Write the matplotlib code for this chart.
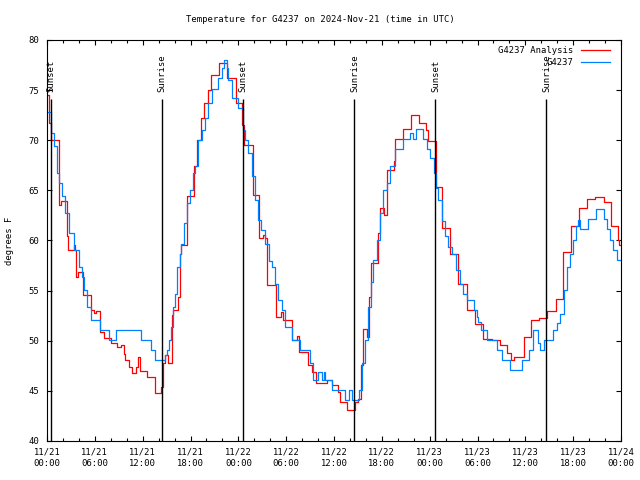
import numpy as np
import pandas as pd
import matplotlib
matplotlib.use("Agg")
import matplotlib.pyplot as plt
import matplotlib.dates as mdates

# hours since 2024-11-21 00:00 UTC and temperature [F]
red_h = [0.0, 0.2, 0.45, 1.55, 1.75, 2.5, 2.65, 3.4, 3.5, 3.65, 3.85, 4.5, 5.5, 5.9, 6.2, 6.65,
         7.2, 8.0, 8.8, 9.3, 9.6, 9.75, 10.3, 10.7, 11.15, 11.45, 11.7, 12.6, 13.6, 14.3, 14.5,
         14.8, 15.2, 15.65, 15.85, 16.45, 16.65, 16.85, 17.6, 18.45, 18.8, 19.35, 19.7, 20.25,
         20.6, 21.6, 22.6, 23.7, 24.4, 24.75, 25.8, 26.65, 27.1, 27.3, 27.65, 28.7, 29.3, 29.6,
         30.7, 31.3, 31.6, 32.7, 33.3, 33.8, 35.1, 35.8, 36.55, 36.8, 37.6, 38.6, 39.0, 39.4,
         39.6, 40.1, 40.4, 40.7, 41.5, 41.8, 42.3, 42.6, 43.5, 43.7, 44.7, 45.7, 46.7, 47.6,
         47.8, 48.8, 49.6, 50.6, 51.6, 52.7, 53.7, 54.7, 55.8, 56.8, 57.75, 58.15, 58.6, 59.8,
         60.7, 61.7, 62.75, 63.8, 64.75, 65.75, 66.75, 67.7, 68.75, 69.9, 70.8, 71.6, 71.8, 72.0]
red_t = [74.5, 71.7, 70.0, 63.5, 63.9, 60.4, 59.05, 59.6, 59.05, 56.4, 56.9, 54.6, 53.1, 52.8,
         53.0, 50.9, 50.3, 49.75, 49.4, 49.6, 48.7, 48.1, 47.4, 46.75, 47.4, 48.4, 47.0, 46.4,
         44.75, 45.4, 47.8, 48.6, 47.8, 52.6, 53.1, 54.4, 58.7, 59.55, 64.4, 67.4, 70.0, 72.2,
         73.7, 75.0, 76.5, 77.7, 76.2, 73.7, 71.5, 69.5, 64.5, 60.2, 60.5, 60.2, 55.55, 52.4,
         52.9, 52.1, 50.1, 50.5, 48.9, 47.6, 46.9, 45.75, 46.1, 45.6, 44.9, 43.9, 43.1, 43.9,
         44.2, 47.6, 51.2, 50.4, 54.4, 57.8, 60.7, 63.2, 62.5, 67.0, 67.9, 70.1, 71.1, 72.5,
         71.7, 71.0, 69.9, 65.3, 61.2, 58.7, 55.7, 53.1, 51.7, 50.2, 50.1, 49.6, 48.75, 48.1,
         48.4, 50.4, 52.1, 52.3, 53.0, 54.2, 58.9, 61.4, 63.2, 64.1, 64.3, 63.8, 61.4, 60.05,
         59.6, 59.6]

blue_h = [0.0, 0.45, 0.9, 1.3, 1.5, 1.9, 2.3, 2.75, 3.4, 4.0, 4.4, 4.6, 5.05, 5.5, 6.6, 7.8,
          8.7, 11.75, 13.0, 13.6, 14.8, 15.0, 15.3, 15.5, 15.8, 16.0, 16.35, 16.7, 16.85, 17.2,
          17.6, 17.9, 18.35, 18.6, 19.0, 19.4, 19.8, 20.2, 20.7, 21.5, 21.9, 22.25, 22.55,
          22.75, 23.2, 24.0, 24.6, 24.85, 25.25, 25.7, 26.1, 26.5, 26.9, 27.35, 27.8, 28.2,
          28.6, 29.0, 29.45, 29.9, 30.7, 31.75, 33.0, 33.4, 34.0, 34.5, 34.7, 34.9, 35.7, 37.4,
          37.9, 38.2, 39.1, 39.5, 39.9, 40.3, 40.6, 40.95, 41.4, 41.8, 42.2, 42.6, 43.0, 43.7,
          44.7, 45.5, 45.95, 46.3, 47.0, 47.2, 47.65, 48.05, 48.5, 48.8, 49.1, 49.5, 49.9,
          50.35, 50.8, 51.3, 51.8, 52.2, 52.65, 53.5, 53.9, 54.1, 54.5, 55.2, 56.4, 57.05,
          58.1, 59.6, 60.4, 61.0, 61.6, 61.9, 62.3, 63.5, 64.0, 64.4, 64.8, 65.2, 65.6, 66.0,
          66.4, 66.55, 66.9, 67.8, 68.9, 69.9, 70.2, 70.6, 71.05, 71.5, 72.0]
blue_t = [72.85, 70.7, 69.4, 66.7, 65.7, 64.4, 62.7, 60.7, 59.05, 57.4, 56.4, 55.1, 53.4, 52.1,
          51.1, 50.1, 51.1, 50.1, 49.1, 48.1, 48.6, 49.1, 50.1, 51.4, 53.4, 54.7, 57.4, 58.7,
          59.7, 61.7, 63.7, 65.0, 66.7, 67.4, 70.0, 71.0, 72.2, 73.7, 75.1, 76.2, 77.2, 78.0,
          77.2, 76.0, 74.2, 73.2, 71.0, 70.0, 68.7, 66.4, 64.0, 62.0, 61.0, 59.7, 58.0, 57.4,
          55.7, 54.05, 53.1, 51.4, 50.1, 49.1, 47.75, 46.1, 46.9, 46.1, 46.9, 46.1, 45.1, 44.1,
          45.1, 44.1, 45.1, 47.75, 50.1, 53.4, 55.9, 58.05, 60.05, 62.7, 65.0, 65.7, 67.4,
          69.1, 70.1, 70.7, 70.1, 71.1, 71.1, 70.1, 69.1, 68.2, 66.7, 65.2, 64.0, 61.9, 60.4,
          59.4, 58.7, 57.05, 55.7, 54.7, 54.05, 53.1, 52.4, 51.9, 51.1, 50.1, 49.1, 48.1, 47.1,
          48.1, 49.1, 51.1, 49.8, 49.1, 50.1, 51.1, 51.8, 52.7, 55.05, 57.4, 58.7, 60.05, 61.4,
          62.05, 61.1, 62.1, 63.1, 62.1, 61.1, 60.05, 59.05, 58.05, 58.05]

# sun events (hours since start)
sun_h = [0.54, 14.47, 24.63, 38.56, 48.72, 62.65]
sun_lab = ['Sunset', 'Sunrise', 'Sunset', 'Sunrise', 'Sunset', 'Sunrise']

start = pd.Timestamp('2024-11-21 00:00')
def to_time(h):
    return (start + pd.to_timedelta(h, unit='h')).to_numpy()

plt.rcParams['font.family'] = 'DejaVu Sans Mono'
fs = 6.4

fig = plt.figure(figsize=(6.4, 4.8), dpi=100)
ax = fig.add_axes([47/640, 1-441/480, 574/640, 401/480])

ax.plot(to_time(red_h), red_t, color='#ff0000', lw=0.9, drawstyle='steps-post', label='G4237 Analysis')
ax.plot(to_time(blue_h), blue_t, color='#0080ff', lw=0.9, drawstyle='steps-post', label='G4237')

# sunrise / sunset markers
ax.vlines(to_time(sun_h), 40, 74.1, color='black', lw=1.0)
for t, s in zip(to_time(sun_h), sun_lab):
    ax.text(t, 74.8, s, rotation=90, ha='center', va='bottom', fontsize=fs)

ax.set_xlim(to_time([0])[0], to_time([72])[0])
ax.set_ylim(40, 80)
ax.set_yticks(np.arange(40, 81, 5))
ax.xaxis.set_major_locator(mdates.HourLocator(byhour=[0, 6, 12, 18]))
ax.xaxis.set_minor_locator(mdates.HourLocator(byhour=range(0, 24, 2)))
ax.xaxis.set_major_formatter(mdates.DateFormatter('%m/%d\n%H:%M'))
ax.tick_params(which='major', direction='in', top=True, right=True, length=3.4, width=0.8,
               labelsize=fs, pad=5)
ax.tick_params(which='minor', direction='in', top=True, right=True, length=2, width=0.8)
ax.tick_params(axis='y', pad=5.5)
for lab in ax.get_xticklabels():
    lab.set_linespacing(1.35)
for sp in ax.spines.values():
    sp.set_linewidth(0.8)

fig.text(320/640, 1-19/480, 'Temperature for G4237 on 2024-Nov-21 (time in UTC)',
         ha='center', va='center', fontsize=fs)
fig.text(10/640, 1-241/480, 'degrees F', rotation=90, ha='center', va='center', fontsize=fs)

ax.legend(loc='upper right', bbox_to_anchor=(0.981, 0.986), frameon=False, fontsize=fs,
          markerfirst=False, borderpad=0, borderaxespad=0, handlelength=3.3,
          handletextpad=0.8, labelspacing=0.38)

fig.savefig('out.png', dpi=100)
